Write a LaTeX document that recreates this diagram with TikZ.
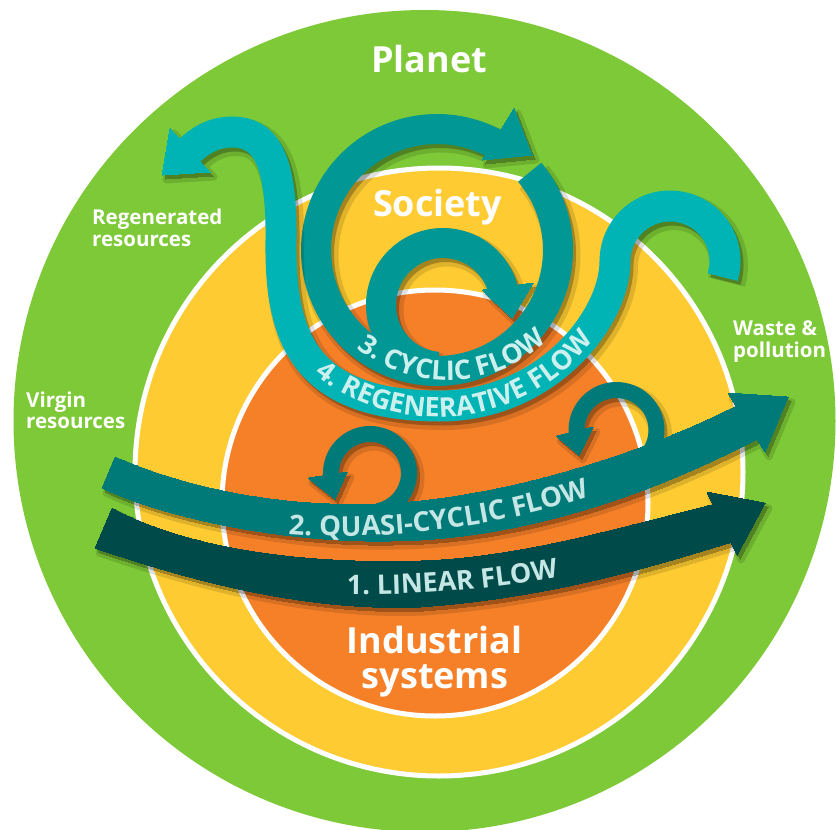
\documentclass[tikz,border=0pt]{standalone}
\usepackage{fontspec}
\setmainfont{Open Sans}
\usetikzlibrary{decorations.text}

\definecolor{planetgreen}{RGB}{125,201,55}
\definecolor{societyyellow}{RGB}{254,203,50}
\definecolor{industryorange}{RGB}{246,128,40}
\definecolor{linearcol}{RGB}{0,74,73}
\definecolor{quasicol}{RGB}{0,122,120}
\definecolor{cycliccol}{RGB}{0,151,148}
\definecolor{regencol}{RGB}{0,180,181}
\definecolor{bandtext}{RGB}{196,230,228}
\definecolor{ringtext}{RGB}{204,240,238}

\newlength\spread
\newlength\strokew

\tikzset{
  title/.style={text=white, inner sep=0pt, font=\bfseries\fontsize{36}{36}\selectfont},
  small/.style={text=white, inner sep=0pt, font=\bfseries\fontsize{20.5}{20.5}\selectfont},
  headfill/.style={fill=#1, draw=#1, line width=\spread, line join=round}
}

% 3. cyclic flow: big ring plus inner loop
\newcommand\cyclicflow[1]{%
  \setlength\strokew{30pt}\addtolength\strokew{\spread}%
  \draw[#1, line width=\strokew] (437,250) ++(-40:121) arc[start angle=-40, end angle=300, radius=121];
  \draw[#1, line width=\strokew] (443,305) ++(95:62) arc[start angle=95, end angle=348, radius=62];
  \filldraw[headfill=#1] (514,108) -- (532,155) -- (482,160) -- cycle;
  \filldraw[headfill=#1] (482,290) -- (533,283) -- (512,318) -- cycle;}

% 4. regenerative flow: S-shaped band
\newcommand\regenflow[1]{%
  \setlength\strokew{31pt}\addtolength\strokew{\spread}%
  \draw[#1, line width=\strokew] (722.6,277.1) arc[start angle=17, end angle=-180, radius=55]
    .. controls (615,320) and (545,406) .. (440,406)
    .. controls (298,406) and (280,330) .. (281,240)
    .. controls (282,160) and (266,132) .. (232,132)
    .. controls (212,132) and (198,142) .. (187,153);
  \filldraw[headfill=#1] (170,128) -- (162,175) -- (210,172) -- cycle;}

% 2. quasi-cyclic flow: band with two small loops
\newcommand\quasiflow[1]{%
  \setlength\strokew{16pt}\addtolength\strokew{\spread}%
  \draw[#1, line width=\strokew] (370,473) ++(78:39) arc[start angle=78, end angle=-186, radius=39];
  \draw[#1, line width=\strokew] (616.5,430) ++(50:40) arc[start angle=50, end angle=-186, radius=40];
  \filldraw[headfill=#1] (308,478) -- (335,499) -- (347,472) -- cycle;
  \filldraw[headfill=#1] (556,436) -- (579,455) -- (593,427) -- cycle;
  \filldraw[headfill=#1] (115,457) .. controls (180,485) and (270,508) .. (380,504)
    .. controls (500,499) and (640,455) .. (736,406)
    -- (728,393) -- (788,397) -- (765,452) -- (757,439)
    .. controls (650,495) and (520,540) .. (390,541)
    .. controls (290,543) and (170,520) .. (102,488) -- cycle;}

% 1. linear flow: plain band
\newcommand\linearflow[1]{%
  \filldraw[headfill=#1] (112,508) .. controls (180,545) and (290,565) .. (420,561)
    .. controls (520,558) and (630,525) .. (713,504.5)
    -- (707,492) -- (765,503) -- (737,555) -- (731,542.5)
    .. controls (665,562) and (560,597) .. (420,607)
    .. controls (300,612) and (180,577) .. (95,548) -- cycle;}

% draws a flow with a soft shadow below it: #1 flow macro, #2 colour
\newcommand\withshadow[2]{%
  \setlength\spread{7pt}%
  \begin{scope}[shift={(4,5)}, transparency group, opacity=0.12] #1{black} \end{scope}
  \setlength\spread{0pt}%
  \begin{scope}[shift={(3,4)}, transparency group, opacity=0.26] #1{black} \end{scope}
  #1{#2}}

\begin{document}
\begin{tikzpicture}[x=1pt, y=-1pt]
\useasboundingbox (0,0) rectangle (836,830);
\fill[white] (0,0) rectangle (836,830);

% nested discs
\fill[planetgreen] (424.5,421) circle[radius=411];
\filldraw[fill=societyyellow, draw=white, line width=5pt] (439,472) circle[radius=304];
\filldraw[fill=industryorange, draw=white, line width=5pt] (435,503) circle[radius=213];

% flows
\withshadow\cyclicflow{cycliccol}
\withshadow\regenflow{regencol}
\withshadow\quasiflow{quasicol}
\withshadow\linearflow{linearcol}

% flow names along the bands
\path[decorate, decoration={text along path, text align=center, text color=bandtext,
  text={|\bfseries\fontsize{27}{27}\selectfont|1. LINEAR FLOW}}]
  (325,594) .. controls (400,597) and (500,590) .. (580,573);
\path[decorate, decoration={text along path, text align=center, text color=bandtext,
  text={|\bfseries\fontsize{27.5}{27.5}\selectfont|2. QUASI-CYCLIC FLOW}}]
  (275,533) .. controls (380,543) and (500,528) .. (603,492);
\path[decorate, decoration={text along path, text align=center, text color=ringtext,
  text={|\bfseries\fontsize{27}{27}\selectfont|3. CYCLIC FLOW}}]
  (448,234) ++(134:146) arc[start angle=134, end angle=42, radius=146];
\path[decorate, decoration={text along path, text align=center, text color=ringtext,
  text={|\bfseries\fontsize{27}{27}\selectfont|4. REGENERATIVE FLOW}}]
  (437,219) ++(134:198) arc[start angle=134, end angle=32, radius=198];

% labels
\node[title, anchor=base] (planet) at (429,72) {Planet};
\node[title, anchor=base] (society) at (437.5,216) {Society};
\node[title, anchor=base] (industrial) at (434.5,653) {Industrial};
\node[title, anchor=base] (systems) at (435,688) {systems};
\node[small, anchor=base west] (regen1) at (92,224) {Regenerated};
\node[small, anchor=base west] (regen2) at (92,246) {resources};
\node[small, anchor=base west] (virgin1) at (26,407) {Virgin};
\node[small, anchor=base west] (virgin2) at (26,428) {resources};
\node[small, anchor=base west] (waste1) at (733,335) {Waste \&};
\node[small, anchor=base west] (waste2) at (733,357) {pollution};
\end{tikzpicture}
\end{document}
